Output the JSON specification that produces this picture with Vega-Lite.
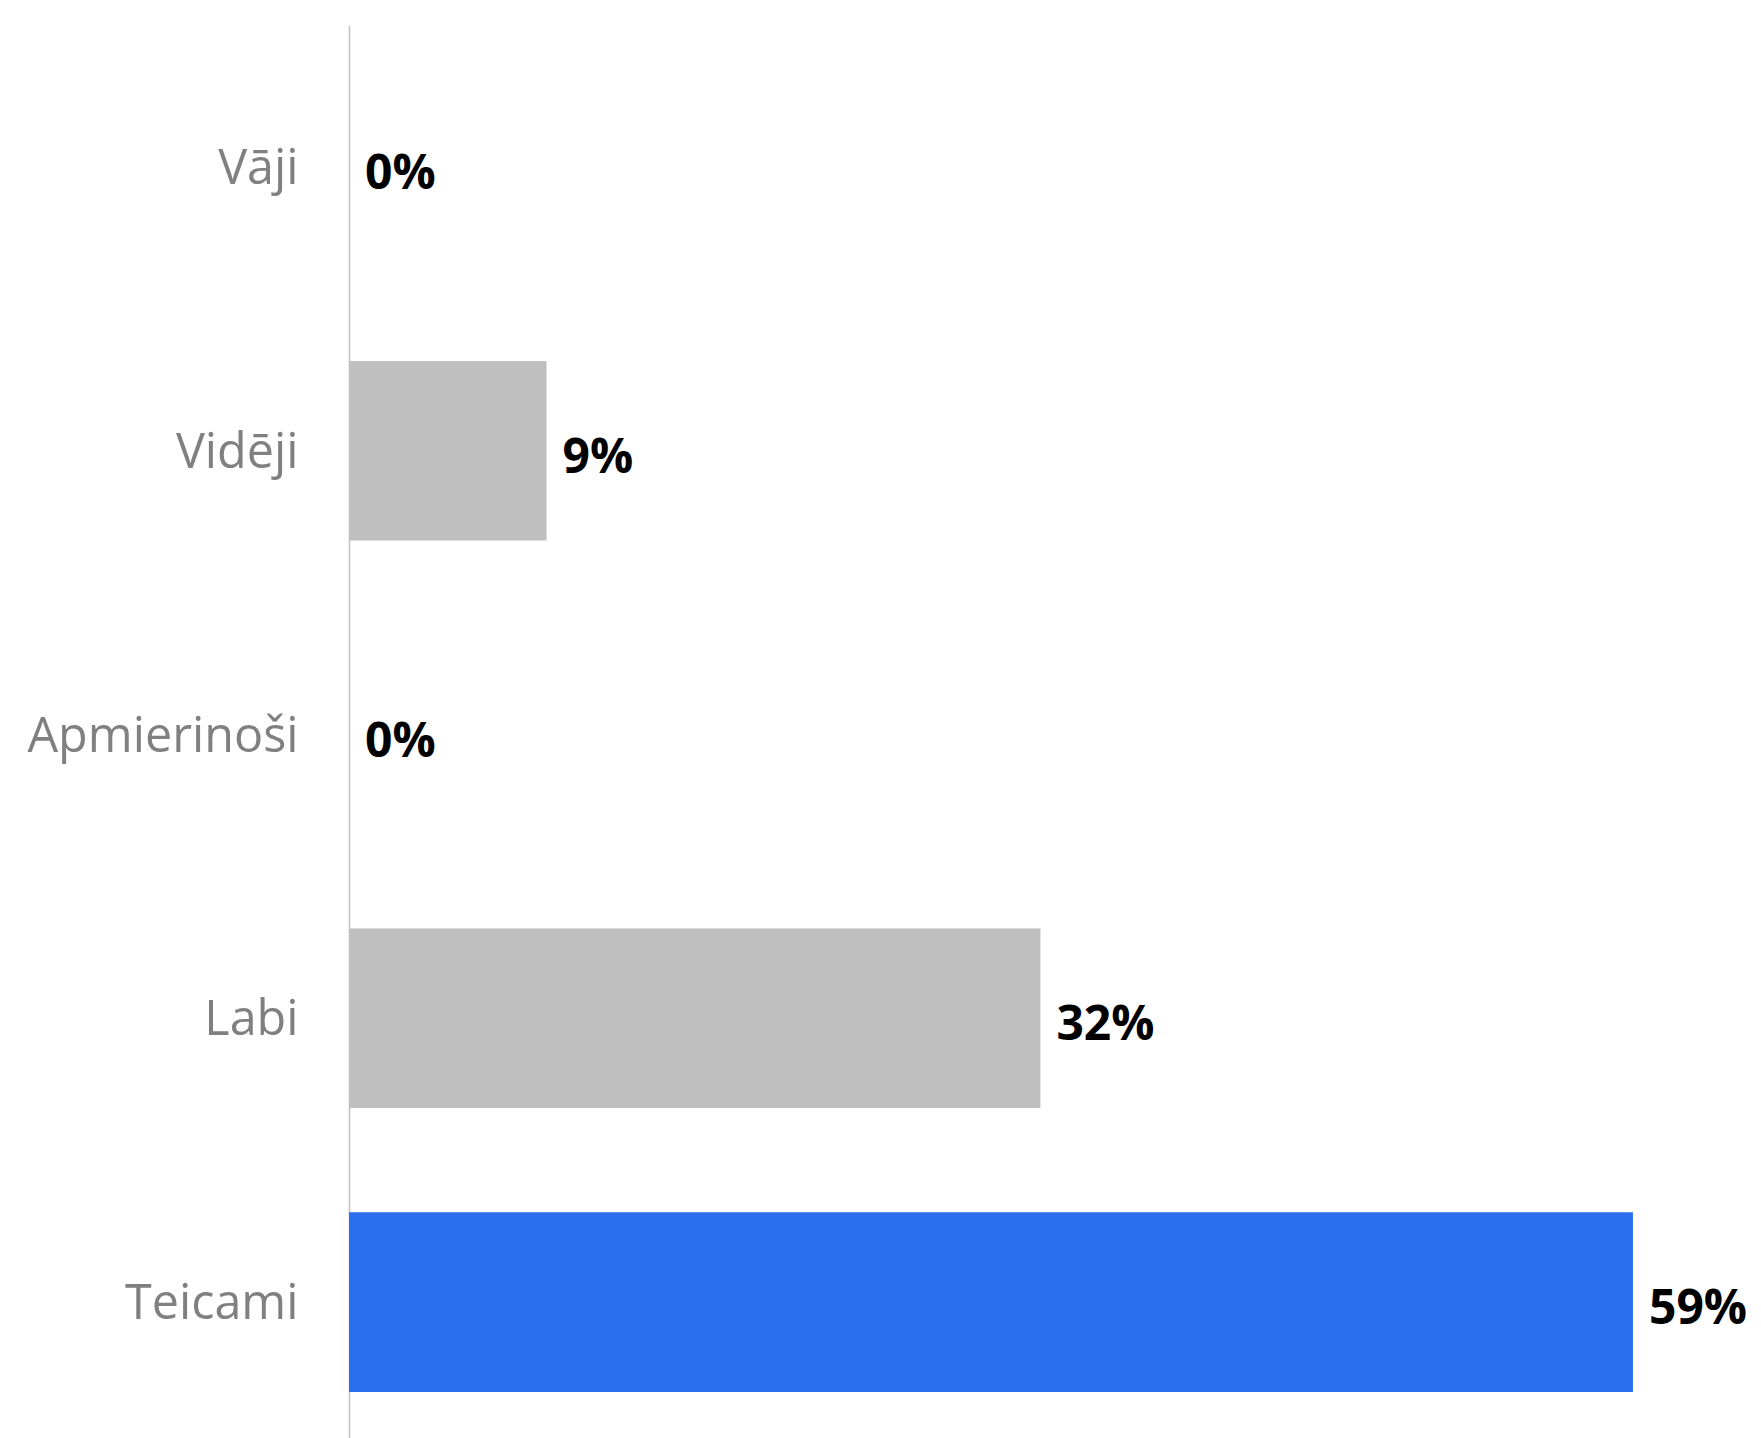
{
  "$schema": "https://vega.github.io/schema/vega-lite/v6.json",
  "width": 1400,
  "height": 1419,
  "autosize": "none",
  "padding": {"left": 349, "top": 25, "right": 12, "bottom": 0},
  "background": "white",
  "config": {"view": {"stroke": null}},
  "data": {
    "values": [
      {"rating": "Vāji", "share": 0},
      {"rating": "Vidēji", "share": 0.0909},
      {"rating": "Apmierinoši", "share": 0},
      {"rating": "Labi", "share": 0.3182},
      {"rating": "Teicami", "share": 0.5909}
    ]
  },
  "encoding": {
    "y": {
      "field": "rating",
      "type": "nominal",
      "sort": null,
      "scale": {"paddingInner": 0.367, "paddingOuter": 0.1835},
      "axis": {
        "title": null,
        "ticks": false,
        "grid": false,
        "labelPadding": 51,
        "labelLimit": 0,
        "labelFontSize": 48.5,
        "labelColor": "#808080",
        "labelFont": "Open Sans",
        "labelOffset": 2,
        "domainColor": "#c0c0c0",
        "domainWidth": 1.5
      }
    },
    "x": {
      "field": "share",
      "type": "quantitative",
      "scale": {"domain": [0, 0.6443], "nice": false},
      "axis": null
    }
  },
  "layer": [
    {
      "mark": {"type": "bar"},
      "encoding": {
        "color": {
          "field": "rating",
          "type": "nominal",
          "scale": {
            "domain": ["Vāji", "Vidēji", "Apmierinoši", "Labi", "Teicami"],
            "range": ["#bfbfbf", "#bfbfbf", "#bfbfbf", "#bfbfbf", "#2A70EE"]
          },
          "legend": null
        }
      }
    },
    {
      "mark": {
        "type": "text",
        "align": "left",
        "baseline": "middle",
        "dx": 16,
        "dy": 8,
        "font": "Open Sans",
        "fontWeight": "bold",
        "fontSize": 48,
        "color": "black"
      },
      "encoding": {
        "text": {"field": "share", "type": "quantitative", "format": ".0%"}
      }
    }
  ]
}
